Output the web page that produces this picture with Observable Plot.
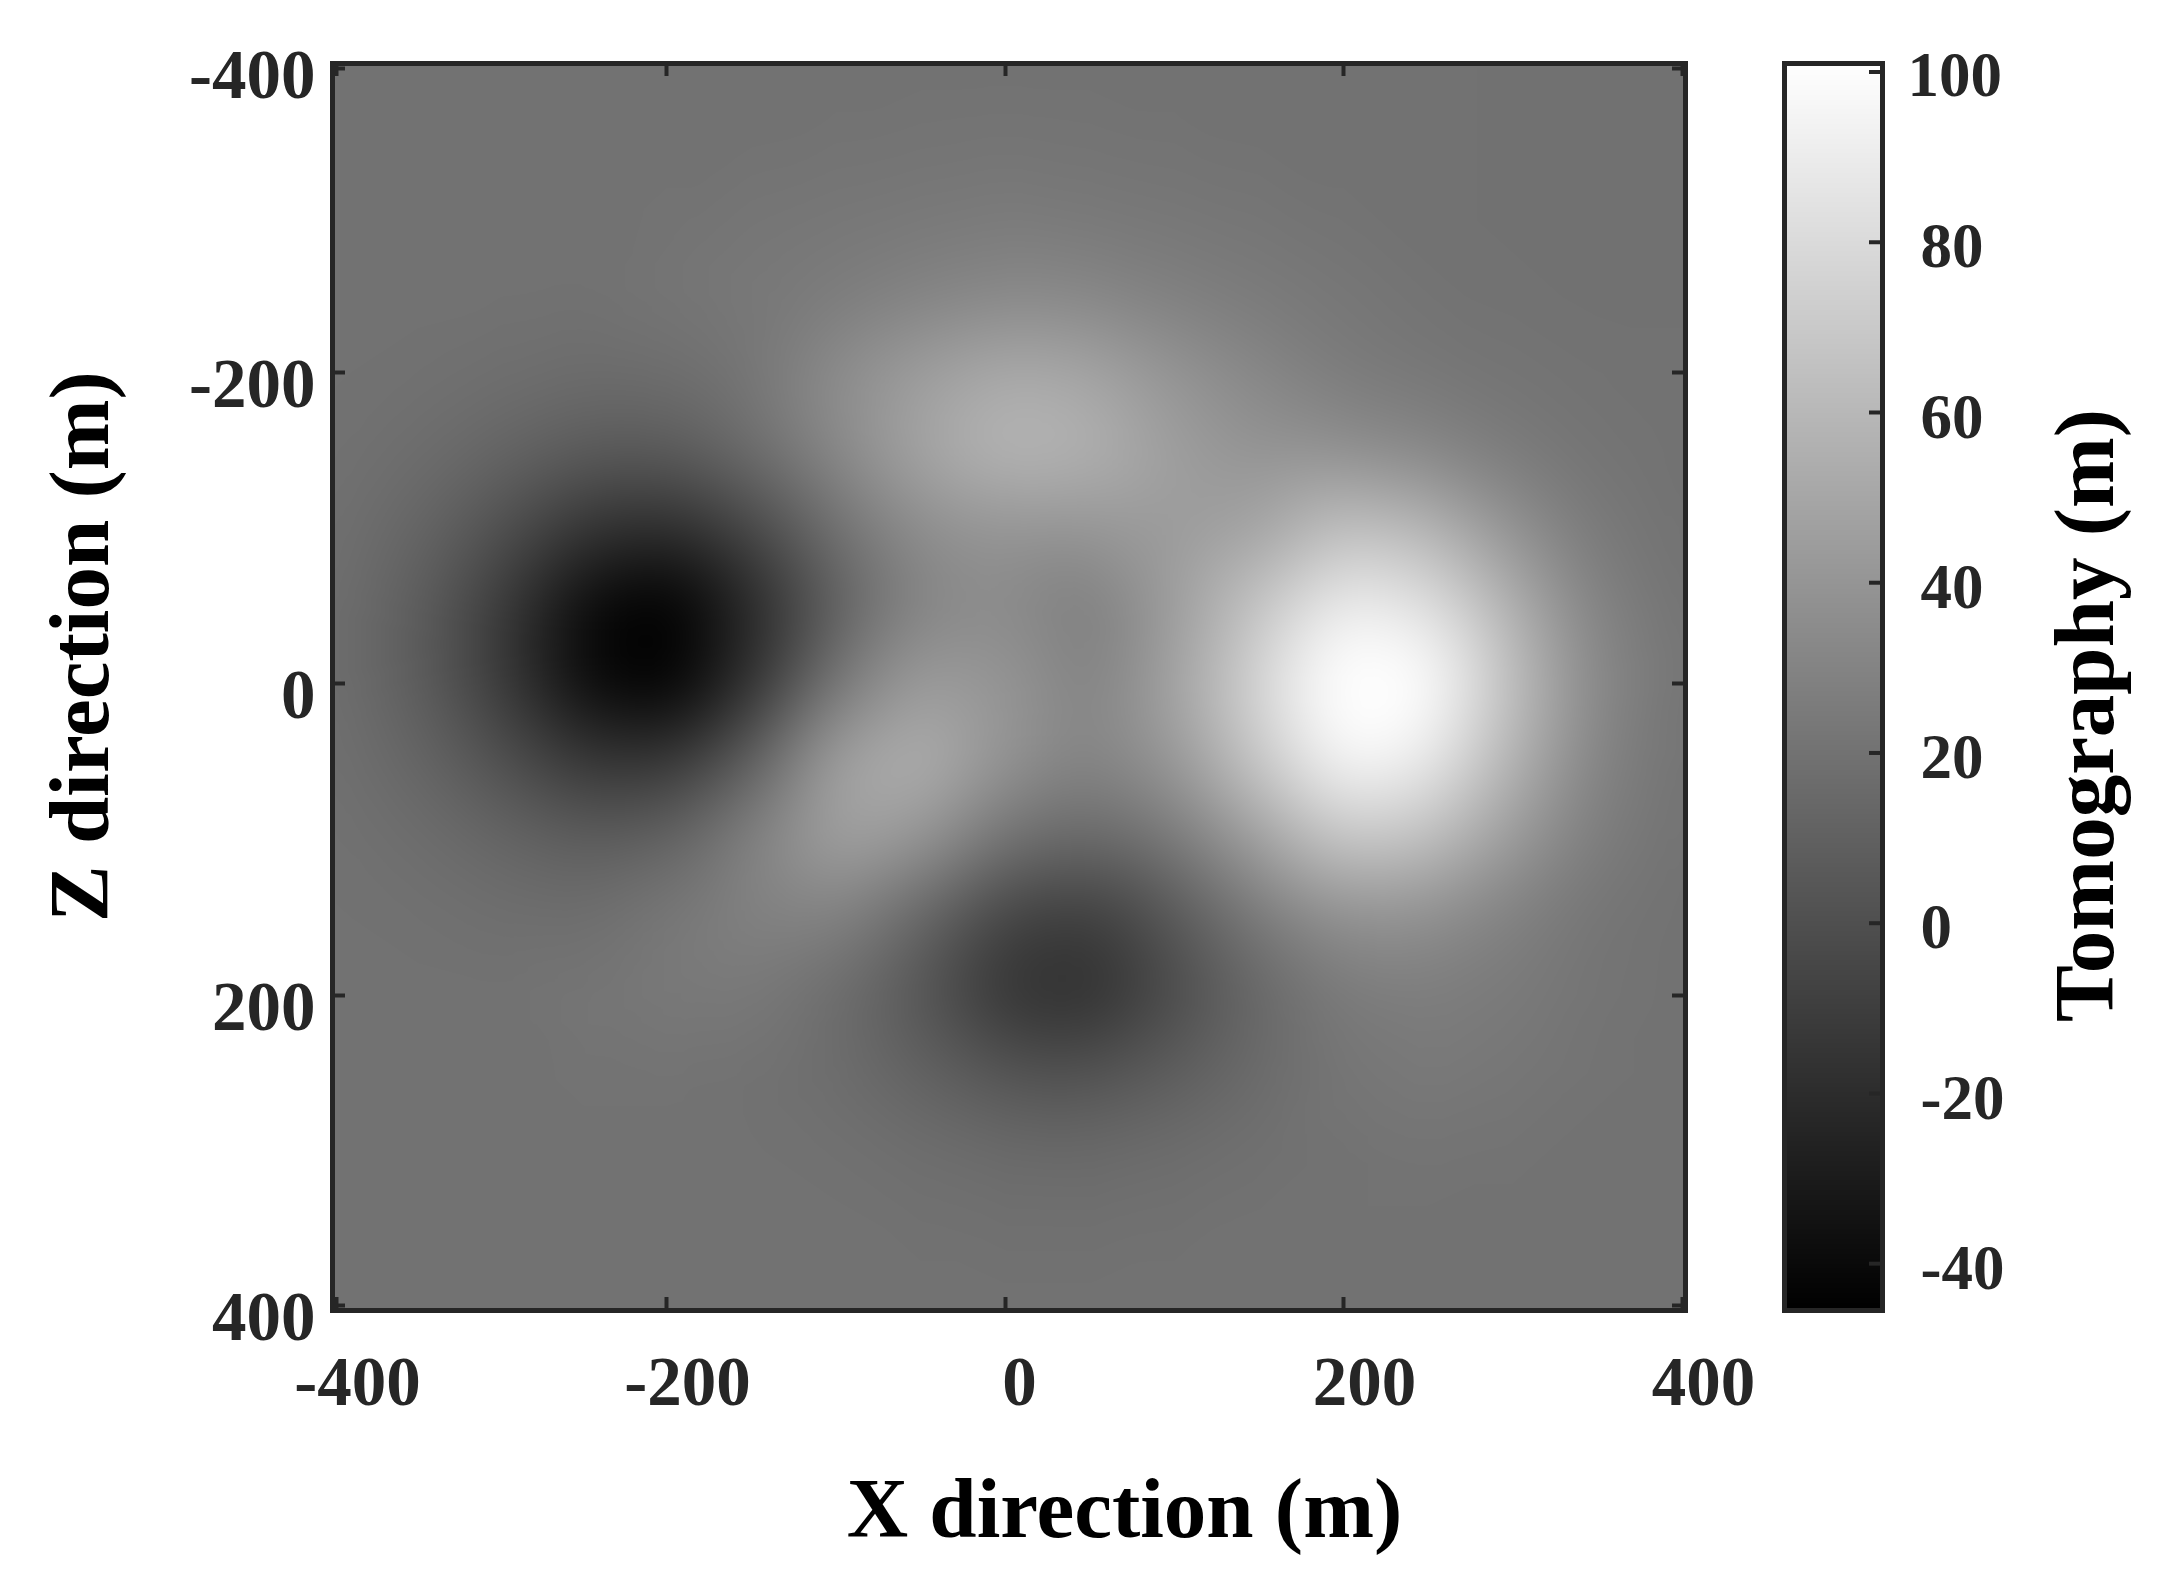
<!DOCTYPE html>
<html>
<head>
<meta charset="utf-8">
<script src="https://cdn.jsdelivr.net/npm/d3@7"></script>
<script src="https://cdn.jsdelivr.net/npm/@observablehq/plot@0.6"></script>
<style>
html,body{margin:0;padding:0;background:#fff;}
#chart{display:flex;flex-wrap:nowrap;width:2173px;height:1595px;}
#chart svg{flex:none;display:block;max-width:none;}
</style>
</head>
<body>
<div id="chart"></div>
<script>
const xValues = [-400,-350,-300,-250,-200,-150,-100,-50,0,50,100,150,200,250,300,350,400];
const zValues = [-400,-350,-300,-250,-200,-150,-100,-50,0,50,100,150,200,250,300,350,400];
const tomography = [
 [20,20,20,20,20,20,20,20,20,20,20,20,20,20,19.5,19.5,19.5],
 [20,20,20,20,20,20,20.5,21,21.5,21,20.5,20,20,20,19.5,19.5,19.5],
 [20,20,20,20,20.5,22,23,24,25,24,23,22,20.5,20,19.5,19.5,19.5],
 [20,20,19.8,19.6,21.7,23.5,26,30,33,32,28,25,23,20.5,20,19.5,19.5],
 [19.8,19.3,18.2,16.9,17.8,22.5,36,46,53,50,40,32,25,22.6,21.1,20.3,20],
 [19.3,17.2,12.5,7,7.1,18,34,50,60,57,45,38,36,32,25,21.2,20.2],
 [18.2,12.7,0.2,-16,-20,-4,20,36,40,40,42,46,66,60,39,24,20.5],
 [17.2,8.2,-12.1,-40,-50,-23,9.6,31,34.7,25,44,68,92,85,56,29,21],
 [17.2,8.2,-12.1,-40,-49,-18,24,46,41,28,48,78,108,103,64,32,21.4],
 [18.2,12.7,0.2,-15,-15,10.4,50,58,40,29.5,41,70,98,91,58,29.5,21.2],
 [19.3,17.2,12.5,7.7,11.4,31,50,42,19.6,14,23.6,46,70,66,44,26,20.7],
 [19.8,19.3,18.2,17.6,24,30,30,12.7,-8,-12,4.4,24,37,37,28,21.6,20.2],
 [20,20,19.8,22,24,24,16.5,2.9,-17,-20,-3,13.5,24.6,26,24.6,21,20],
 [20,20,20,20.5,20.5,19.4,16.8,10.3,2.5,1.2,7.8,15.5,22,24,22.5,20.5,20],
 [20,20,20,20,20,19.8,19.2,17.6,15.7,15.3,17,18.8,20,21,20.5,20,20],
 [20,20,20,20,20,20,20,19.5,19,19,19.5,20,20,20,20,20,20],
 [20,20,20,20,20,20,20,20,20,20,20,20,20,20,20,20,20]
];
const xTicks = [-400,-200,0,200,400];
const zTicks = [-400,-200,0,200,400];
const colorTicks = [-40,-20,0,20,40,60,80];
const colorTopTick = [100];
const colorDomain = [-45.5,101];

const font = "'Liberation Serif','Times New Roman',serif";
const ink = "#262626";
const cells = zValues.flatMap((z,i) => xValues.map((x,j) => ({x, z, v: tomography[i][j]})));
const grayScale = {type:"linear", domain: colorDomain, range:["#000000","#ffffff"]};
const svgStyle = {fontFamily: font, color: ink, background:"transparent", overflow:"visible"};

const xLabel = {anchor:"bottom", tickSize:0, tickPadding:45, fontSize:69, fontWeight:"bold", tickFormat:d=>String(d), label:null};
const zLabel = {anchor:"left", tickSize:0, tickPadding:17, fontSize:69, fontWeight:"bold", tickFormat:d=>String(d), label:null};

const main = Plot.plot({
  width: 1740, height: 1595,
  marginLeft: 332, marginRight: 55, marginTop: 63, marginBottom: 285,
  style: svgStyle,
  x: {type:"linear", domain:[-402,-400,-200,0,200,400,402], range:[332,336,666,1005,1343,1682,1685]},
  y: {type:"linear", domain:[-402,-400,-200,0,200,400,402], range:[63,68,372,683,995,1305,1310]},
  color: grayScale,
  marks: [
    Plot.raster(cells, {x:"x", y:"z", fill:"v", interpolate:"barycentric", x1:-402, x2:402, y1:-402, y2:402, pixelSize:1, blur:30}),
    Plot.ruleX(xTicks, {x:d=>d, insetTop:1234, stroke:ink, strokeWidth:4}),
    Plot.ruleX(xTicks, {x:d=>d, insetBottom:1234, stroke:ink, strokeWidth:4}),
    Plot.ruleY(zTicks, {y:d=>d, insetLeft:1340, stroke:ink, strokeWidth:4}),
    Plot.ruleY(zTicks, {y:d=>d, insetRight:1340, stroke:ink, strokeWidth:4}),
    Plot.frame({stroke:ink, strokeWidth:5}),
    Plot.axisX({...xLabel, ticks:xTicks.filter(d=>d!==0), dx:21}),
    Plot.axisX({...xLabel, ticks:xTicks.filter(d=>d===0), dx:14}),
    Plot.axisY({...zLabel, ticks:zTicks.filter(d=>d!==-400), dy:12}),
    Plot.axisY({...zLabel, ticks:zTicks.filter(d=>d===-400), dy:7}),
    Plot.text(["X direction (m)"], {text:d=>d, frameAnchor:"bottom", textAnchor:"middle", dx:115.5, dy:226, lineAnchor:"bottom", fontSize:85, fontWeight:"bold", fill:"#000"}),
    Plot.text(["Z direction (m)"], {text:d=>d, frameAnchor:"left", textAnchor:"middle", rotate:-90, dx:-225, dy:-40.5, lineAnchor:"bottom", fontSize:85, fontWeight:"bold", fill:"#000"})
  ]
});

const bar = Plot.plot({
  width: 433, height: 1595,
  marginLeft: 44, marginRight: 291, marginTop: 63, marginBottom: 285,
  style: svgStyle,
  x: {type:"linear", domain:[0,1], range:[44,142], axis:null},
  y: {type:"linear", domain:[colorDomain[1],colorDomain[0]], range:[63,1310]},
  color: grayScale,
  marks: [
    Plot.raster({x1:0, x2:1, y1:colorDomain[0], y2:colorDomain[1], fill:(x,y)=>y, pixelSize:1}),
    Plot.ruleY(colorTicks.concat(colorTopTick), {y:d=>d, insetLeft:85, stroke:ink, strokeWidth:4}),
    Plot.frame({stroke:ink, strokeWidth:5}),
    Plot.axisY({ticks:colorTicks, anchor:"right", tickSize:0, tickPadding:38, dy:5, fontSize:63, fontWeight:"bold", tickFormat:d=>String(d), label:null}),
    Plot.axisY({ticks:colorTopTick, anchor:"right", tickSize:0, tickPadding:25, dy:4, fontSize:63, fontWeight:"bold", tickFormat:d=>String(d), label:null}),
    Plot.text(["Tomography (m)"], {text:d=>d, frameAnchor:"right", textAnchor:"middle", rotate:-90, dx:230, dy:28.5, lineAnchor:"bottom", fontSize:85, fontWeight:"bold", fill:"#000"})
  ]
});

document.getElementById("chart").append(main, bar);
</script>
</body>
</html>
